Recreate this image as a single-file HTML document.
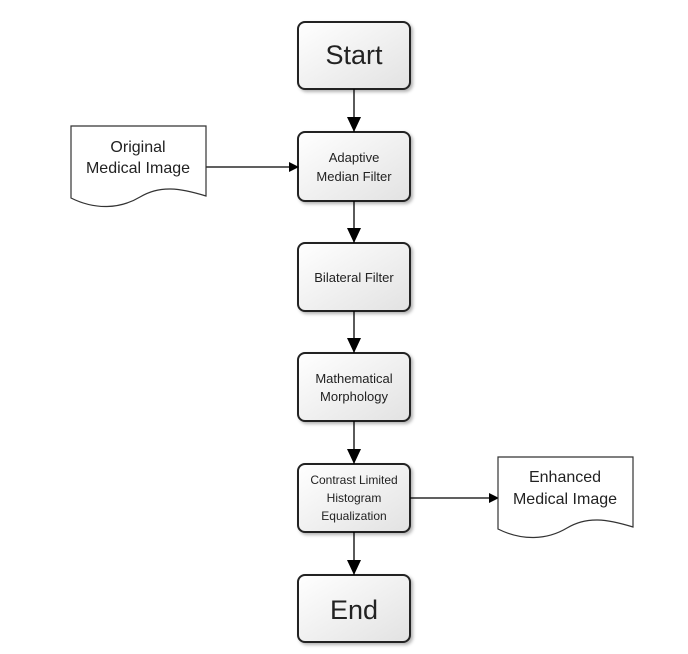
<!DOCTYPE html>
<html><head><style>body{margin:0;background:#fff}svg{display:block}</style></head><body>
<svg width="688" height="654" xmlns="http://www.w3.org/2000/svg" font-family="Liberation Sans, sans-serif">
<defs>
<linearGradient id="g" x1="0" y1="0" x2="1" y2="1"><stop offset="0" stop-color="#ffffff"/><stop offset="1" stop-color="#e2e2e2"/></linearGradient>
<filter id="s" x="-10%" y="-10%" width="130%" height="130%"><feDropShadow dx="2" dy="2" stdDeviation="1.5" flood-color="#000" flood-opacity="0.3"/></filter>
<marker id="a" markerWidth="10" markerHeight="10" refX="9" refY="5" orient="auto" markerUnits="userSpaceOnUse"><path d="M0,0 L10,5 L0,10z" fill="#000"/></marker>
<marker id="b" markerWidth="16" markerHeight="16" refX="15" refY="8" orient="auto" markerUnits="userSpaceOnUse"><path d="M0,1 L15,8 L0,15z" fill="#000"/></marker>
</defs>
<g stroke="#222" stroke-width="2" fill="url(#g)" filter="url(#s)">
<rect x="298" y="22" width="112" height="67" rx="7"/>
<rect x="298" y="132" width="112" height="69" rx="7"/>
<rect x="298" y="243" width="112" height="68" rx="7"/>
<rect x="298" y="353" width="112" height="68" rx="7"/>
<rect x="298" y="464" width="112" height="68" rx="7"/>
<rect x="298" y="575" width="112" height="67" rx="7"/>
</g>
<g stroke="#000" stroke-width="1.3" fill="none">
<line x1="354" y1="89" x2="354" y2="132" marker-end="url(#b)"/>
<line x1="354" y1="201" x2="354" y2="243" marker-end="url(#b)"/>
<line x1="354" y1="311" x2="354" y2="353" marker-end="url(#b)"/>
<line x1="354" y1="421" x2="354" y2="464" marker-end="url(#b)"/>
<line x1="354" y1="532" x2="354" y2="575" marker-end="url(#b)"/>
<line x1="206" y1="167" x2="298" y2="167" marker-end="url(#a)"/>
<line x1="410" y1="498" x2="498" y2="498" marker-end="url(#a)"/>
</g>
<g stroke="#333" stroke-width="1.2" fill="#fff">
<path d="M71,126 L206,126 L206,196 C180,188 160,185 140,197 C120,209 95,210 71,198 Z"/>
<path d="M498,457 L633,457 L633,527 C607,519 587,516 567,528 C547,540 522,541 498,529 Z"/>
</g>
<g fill="#222" text-anchor="middle">
<text x="354" y="64" font-size="27">Start</text>
<text x="354" y="619" font-size="27">End</text>
<text x="354" y="162" font-size="13">Adaptive</text>
<text x="354" y="181" font-size="13">Median Filter</text>
<text x="354" y="282" font-size="13">Bilateral Filter</text>
<text x="354" y="383" font-size="13">Mathematical</text>
<text x="354" y="401" font-size="13">Morphology</text>
<text x="354" y="484" font-size="12">Contrast Limited</text>
<text x="354" y="502" font-size="12">Histogram</text>
<text x="354" y="520" font-size="12">Equalization</text>
<text x="138" y="152" font-size="16">Original</text>
<text x="138" y="173" font-size="16">Medical Image</text>
<text x="565" y="482" font-size="16">Enhanced</text>
<text x="565" y="504" font-size="16">Medical Image</text>
</g>
</svg>
</body></html>
